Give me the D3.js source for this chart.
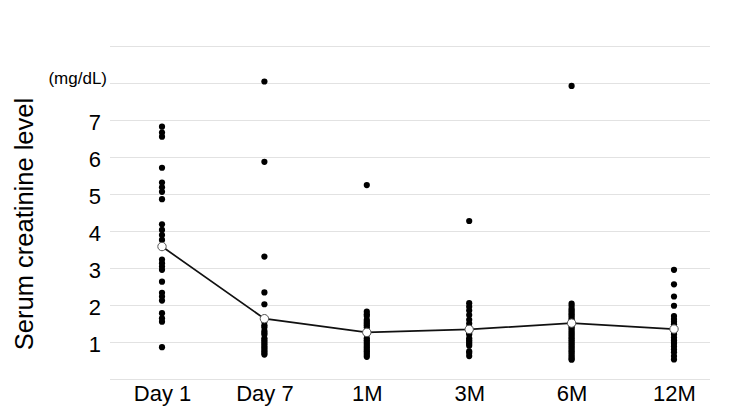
<!DOCTYPE html>
<html><head><meta charset="utf-8">
<script src="https://cdn.jsdelivr.net/npm/d3@7"></script>
<style>body{margin:0;background:#fff}svg{display:block}text{font-family:"Liberation Sans",Arial,sans-serif}</style>
</head><body>
<svg id="c" width="750" height="420"></svg>
<script>
const categories = ["Day 1","Day 7","1M","3M","6M","12M"];
const day1 = [6.82,6.66,6.55,5.71,5.31,5.18,5.06,4.86,4.18,4.03,3.89,3.76,3.6,3.23,3.13,3.04,2.95,2.63,2.33,2.23,2.12,1.78,1.64,1.55,0.86];
const day7 = [8.04,5.87,3.31,2.34,2.02,1.55,1.45,1.4,1.3,1.25,1.2,1.1,1.05,1.0,0.95,0.9,0.85,0.8,0.75,0.7,0.66];
const m1 = [5.24,1.82,1.75,1.7,1.6,1.55,1.5,1.45,1.4,1.3,1.25,1.2,1.1,1.05,1.0,0.95,0.9,0.85,0.8,0.75,0.7,0.65,0.6];
const m3 = [4.27,2.05,1.95,1.85,1.73,1.6,1.5,1.4,1.35,1.3,1.25,1.2,1.1,1.05,1.0,0.95,0.9,0.75,0.7,0.62];
const m6 = [7.92,2.04,1.98,1.9,1.85,1.8,1.75,1.7,1.65,1.6,1.55,1.5,1.45,1.4,1.35,1.3,1.25,1.2,1.15,1.1,1.05,1.0,0.95,0.9,0.85,0.8,0.75,0.7,0.65,0.6,0.55,0.52];
const m12 = [2.95,2.56,2.23,1.98,1.7,1.62,1.55,1.48,1.42,1.35,1.3,1.25,1.2,1.12,1.05,1.0,0.95,0.88,0.8,0.72,0.62,0.53];
const means = [3.58,1.63,1.26,1.34,1.51,1.35];
const yTicks = [1,2,3,4,5,6,7];
const gridValues = [0,1,2,3,4,5,6,7,8,9];
const unitLabel = "(mg/dL)";
const yTitle = "Serum creatinine level";

const series = [day1, day7, m1, m3, m6, m12];
const svg = d3.select("#c");
const x = d3.scalePoint().domain(categories).range([162, 674]);
const y = d3.scaleLinear().domain([0, 9]).range([379, 46]);

// gridlines
svg.append("g").selectAll("line").data(gridValues).join("line")
  .attr("x1", 110).attr("x2", 710)
  .attr("y1", d => y(d) + 0.5).attr("y2", d => y(d) + 0.5)
  .attr("stroke", "#e2e2e2").attr("stroke-width", 1);

// y tick labels
const yAxis = d3.axisLeft(y).tickValues(yTicks).tickSize(0).tickPadding(0).tickFormat(d3.format("d"));
const ga = svg.append("g").attr("transform", "translate(101,2)").call(yAxis);
ga.select(".domain").remove();
ga.selectAll("text").attr("font-size", 22).attr("fill", "#000").attr("font-family", "Liberation Sans, Arial, sans-serif");

svg.append("text").attr("x", 107).attr("y", y(8) + 1).attr("text-anchor", "end")
  .attr("font-size", 17).attr("fill", "#000").text(unitLabel);

svg.append("text").attr("transform", `translate(33,224) rotate(-90)`)
  .attr("text-anchor", "middle").attr("font-size", 25.5).attr("fill", "#000").text(yTitle);

// x labels
const xAxis = d3.axisBottom(x).tickSize(0).tickPadding(0);
const gx = svg.append("g").attr("transform", "translate(0,401)").call(xAxis);
gx.select(".domain").remove();
gx.selectAll("text").attr("font-size", 22).attr("fill", "#000").attr("dy", "0").attr("font-family", "Liberation Sans, Arial, sans-serif");

// points
series.forEach((vals, i) => {
  svg.append("g").selectAll("circle").data(vals).join("circle")
    .attr("cx", x(categories[i])).attr("cy", d => y(d)).attr("r", 3.1)
    .attr("fill", "#000");
});

// mean line
const line = d3.line().x((d, i) => x(categories[i])).y(d => y(d));
svg.append("path").datum(means).attr("d", line).attr("fill", "none")
  .attr("stroke", "#111").attr("stroke-width", 1.7);
svg.append("g").selectAll("circle").data(means).join("circle")
  .attr("cx", (d, i) => x(categories[i])).attr("cy", d => y(d)).attr("r", 4.2)
  .attr("fill", "#fff").attr("stroke", "#555").attr("stroke-width", 1);
</script>
</body></html>
